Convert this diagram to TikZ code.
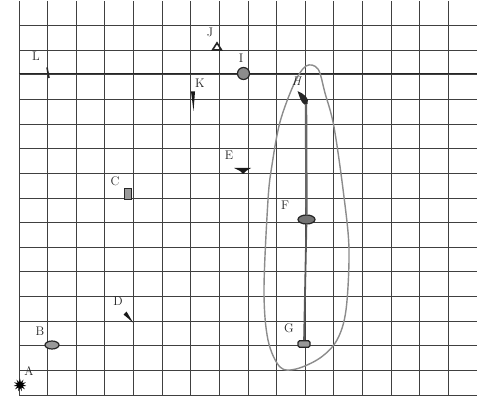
\documentclass[tikz,border=0pt]{standalone}
\usetikzlibrary{shapes.geometric}
\begin{document}
\begin{tikzpicture}[x=1pt,y=-1pt,
  gridline/.style={draw=black!75,line width=0.9pt},
  lbl/.style={inner sep=0pt,font=\fontsize{12.5}{14}\selectfont,text=black!85},
  obj/.style={draw=black!85,line width=1.2pt,fill=black!40,inner sep=0pt},
  loop/.style={draw=black!45,line width=1.4pt},
  rod/.style={draw=black!60,line width=2.4pt}]
\useasboundingbox (0,0) rectangle (477,401);
\fill[white] (0,0) rectangle (477,401);
% grid
\foreach \i in {0,...,15}{
  \draw[gridline] ({19+\i*28.625},1) -- ({19+\i*28.625},395);
}
\foreach \j in {0,...,15}{
  \draw[gridline] (19,{395-\j*24.625}) -- (477,{395-\j*24.625});
}
\draw[gridline,line width=1.1pt,draw=black!85] (19,73.9) -- (477,73.9);
% loop around H, F, G
\draw[loop] plot[smooth cycle,tension=0.55] coordinates {
  (306,66) (318,69) (325,93) (334,127) (344,197) (349,250) (346,310)
  (337,340) (320,358) (296,369) (280,367) (268,340) (264,290)
  (268,200) (272,165) (280,122) (294,84)};
% objects
\node[star,star points=11,star point ratio=2.2,fill=black,minimum size=13pt,inner sep=0pt] (A) at (20,385) {};
\node[obj,ellipse,minimum width=14pt,minimum height=8pt] (B) at (52,345) {};
\node[obj,rectangle,minimum width=7pt,minimum height=11pt,line width=1.6pt] (C) at (128,194) {};
\coordinate (D) at (128,317);
\fill[black!90] (123.5,314.5) -- (126.5,311.5) -- (133,322.5) -- cycle;
\coordinate (E) at (243,171);
\fill[black!90] (234,168) -- (251,168) -- (246,171) -- (243,174) -- (240,171) -- cycle;
\coordinate (Hc) at (304,99);
\fill[black!85] (297.5,91) .. controls (304,94) and (310,98) .. (307.5,104) .. controls (304,107) and (301,102) .. cycle;
\node[obj,ellipse,minimum width=17pt,minimum height=9pt,fill=black!55] (F) at (306.5,219.5) {};
\node[obj,rectangle,rounded corners=1.5pt,minimum width=12pt,minimum height=6.5pt] (G) at (304,344) {};
\node[obj,circle,minimum size=12pt,fill=black!45] (I) at (243.5,73.5) {};
\node[draw=black!85,line width=1.6pt,isosceles triangle,isosceles triangle apex angle=65,shape border rotate=90,minimum height=7pt,minimum width=9pt,inner sep=0pt] (J) at (217,47.5) {};
\coordinate (K) at (193,100);
\fill[black!90] (191,91.5) -- (195,91.5) -- (193.5,111) -- cycle;
\coordinate (L) at (48,73);
\draw[black!85,line width=1.6pt] (47,67.5) -- (49,78);
% rod
\draw[rod] (306,104) -- (F);
\draw[draw=black!65,line width=1.8pt] (F) -- (G);
% labels
\node[lbl] (lA) at (29,371) {A};
\node[lbl] (lB) at (40,331) {B};
\node[lbl] (lC) at (115,181) {C};
\node[lbl] (lD) at (118,301) {D};
\node[lbl] (lE) at (229,155) {E};
\node[lbl] (lF) at (285,205) {F};
\node[lbl] (lG) at (289,328) {G};
\node[lbl] (lH) at (297,81) {\textit{H}};
\node[lbl] (lI) at (241,58) {I};
\node[lbl] (lJ) at (210,32) {J};
\node[lbl] (lK) at (200,83) {K};
\node[lbl] (lL) at (36,56) {L};
\end{tikzpicture}
\end{document}
